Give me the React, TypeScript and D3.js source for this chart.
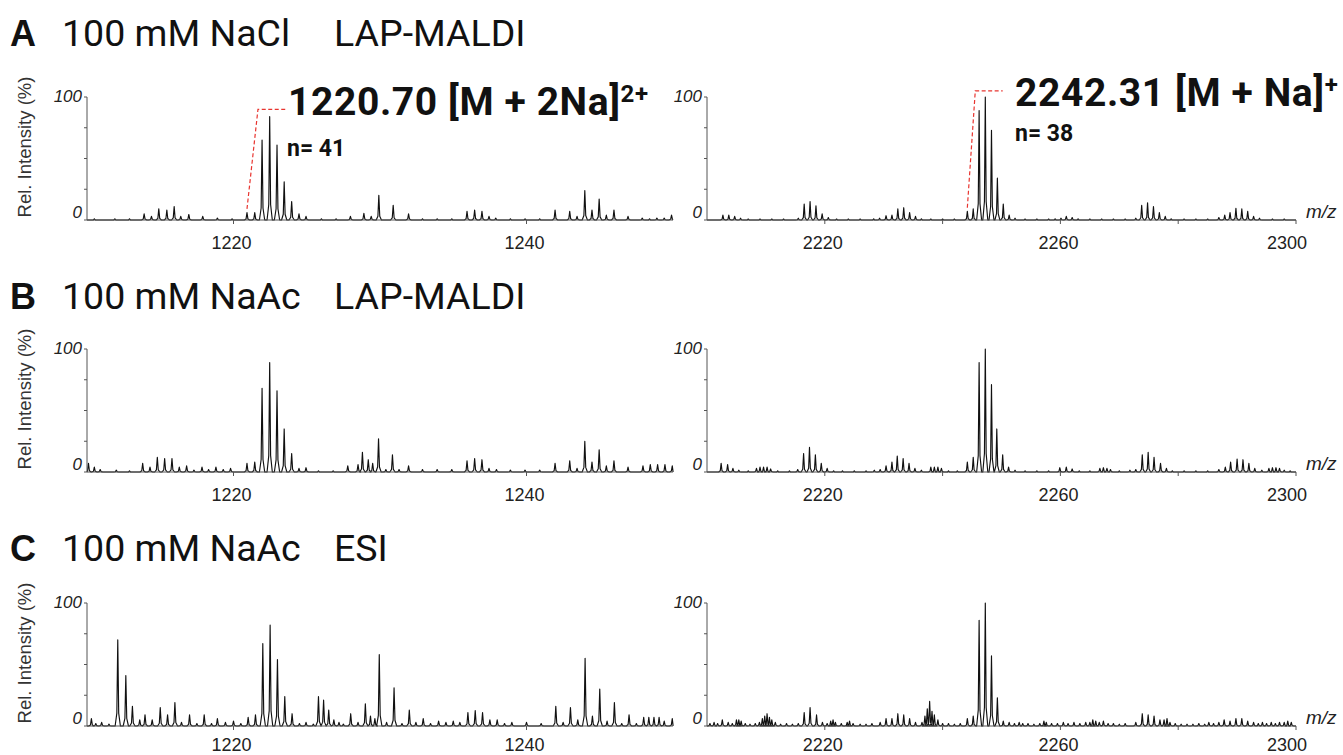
import React from "react";
import * as d3 from "d3";

// ---------- axis / tick data ----------
const leftDomain: [number, number] = [1210, 1250];
const rightDomain: [number, number] = [2200, 2300];
const leftTicks = [1220, 1240];
const leftTickLabels = [1220, 1240];
const rightTicks = [2220, 2240, 2260, 2280, 2300];
const rightTickLabels = [2220, 2260, 2300];
const yTicks = [0, 25, 50, 75, 100];
const yTickLabels = [0, 100];

const panelLetters = ["A", "B", "C"];
const panelSalts = ["100 mM NaCl", "100 mM NaAc", "100 mM NaAc"];
const panelMethods = ["LAP-MALDI", "LAP-MALDI", "ESI"];

// ---------- spectra (peak m/z, rel. intensity %) ----------
const aLeftMz = [1210.5, 1211.9, 1212.9, 1213.9, 1214.4, 1214.9, 1215.45, 1215.95, 1216.4, 1216.95, 1217.9, 1218.9, 1219.9, 1220.92, 1221.45, 1221.95, 1222.47, 1222.97, 1223.46, 1223.97, 1224.47, 1224.95, 1226.0, 1227.0, 1227.98, 1228.9, 1229.4, 1229.92, 1230.9, 1231.95, 1232.9, 1233.9, 1234.9, 1235.94, 1236.46, 1236.96, 1237.44, 1237.9, 1238.9, 1239.9, 1240.9, 1241.95, 1242.95, 1243.45, 1243.98, 1244.47, 1244.96, 1245.45, 1245.97, 1246.93, 1247.9, 1248.4, 1248.9, 1249.4, 1249.9];
const aLeftInt = [1, 1, 1, 5, 3, 9, 8, 11, 3, 4.5, 3, 1.5, 1, 6, 6, 65, 84, 61, 31, 15, 5, 3, 1, 1, 3, 5.5, 3, 20, 12, 5, 1, 1, 1, 7, 8, 7, 3, 1.5, 1, 1, 1, 8, 7, 3, 24, 8, 17, 4, 8, 3, 1.5, 1, 1.5, 1.5, 4];

const aRightMz = [2202.7, 2203.7, 2204.7, 2205.7, 2207, 2209, 2211, 2213, 2215.5, 2216.5, 2217.5, 2218.5, 2219.55, 2220.6, 2222, 2224, 2226, 2228.3, 2229.3, 2230.4, 2231.4, 2232.4, 2233.4, 2234.4, 2235.4, 2236.4, 2238, 2240, 2242, 2244.2, 2245.2, 2246.2, 2247.25, 2248.3, 2249.3, 2250.3, 2251.3, 2252.3, 2254, 2256, 2258, 2259.1, 2260.1, 2261.0, 2262.0, 2263.0, 2265, 2267, 2269, 2271, 2272.8, 2273.8, 2274.8, 2275.8, 2276.8, 2277.8, 2278.8, 2281, 2283, 2285, 2286.9, 2287.9, 2288.8, 2289.8, 2290.8, 2291.8, 2292.8, 2293.8, 2296, 2298];
const aRightInt = [4, 4, 3, 1.5, 0.8, 0.8, 0.8, 0.8, 1.5, 13, 15, 11.5, 5, 2, 0.8, 0.8, 0.8, 1, 1.5, 3.5, 4, 9, 10, 6, 3, 1, 0.8, 0.8, 0.8, 7, 9, 89, 100, 73, 34, 13, 4, 1.5, 0.8, 0.8, 0.8, 1, 1.5, 3, 2, 1, 0.8, 0.8, 0.8, 0.8, 1.5, 12, 14, 11, 6, 3, 1, 0.8, 0.8, 0.8, 2, 4, 6, 9.5, 9, 7, 3, 1.5, 0.8, 0.8];

const bLeftMz = [1210.1, 1210.5, 1210.9, 1212.0, 1212.9, 1213.8, 1214.3, 1214.8, 1215.3, 1215.8, 1216.3, 1216.8, 1217.3, 1217.85, 1218.3, 1218.8, 1219.3, 1219.8, 1220.92, 1221.45, 1221.95, 1222.47, 1222.97, 1223.46, 1223.97, 1224.47, 1224.95, 1225.8, 1226.8, 1227.8, 1228.5, 1228.8, 1229.2, 1229.5, 1229.9, 1230.4, 1230.85, 1231.3, 1231.95, 1232.9, 1233.9, 1234.9, 1235.94, 1236.46, 1236.96, 1237.44, 1237.95, 1238.9, 1239.9, 1240.9, 1241.95, 1242.95, 1243.45, 1243.98, 1244.47, 1244.96, 1245.45, 1245.97, 1246.93, 1247.95, 1248.45, 1248.95, 1249.45, 1249.95];
const bLeftInt = [7, 4, 2, 1.5, 1, 7, 4, 12, 11, 11, 4, 5, 1.5, 4, 2, 4, 2, 3, 7, 8, 68, 89, 66, 35, 15, 3, 3.5, 1, 1, 5, 6, 16, 10, 7, 27, 2, 14, 2, 5, 2, 2, 2, 9, 11, 10, 3, 2, 1.5, 1.5, 1.5, 7, 9, 3, 25, 8, 18, 5, 9, 4, 5, 6, 6, 6, 5];

const bRightMz = [2202.4, 2203.5, 2204.4, 2205.4, 2207, 2208.4, 2209.0, 2209.6, 2210.2, 2210.8, 2212, 2214, 2215.4, 2216.4, 2217.4, 2218.4, 2219.4, 2220.4, 2221.5, 2223, 2225, 2227, 2228.4, 2229.4, 2230.4, 2231.4, 2232.3, 2233.3, 2234.3, 2235.3, 2236.4, 2238.0, 2238.6, 2239.2, 2239.8, 2241, 2242.5, 2244.2, 2245.2, 2246.2, 2247.25, 2248.3, 2249.2, 2250.2, 2251.2, 2252.3, 2254, 2256, 2258, 2259.9, 2261.0, 2262.0, 2263.2, 2265, 2266.7, 2267.3, 2267.9, 2268.5, 2270, 2271.8, 2272.8, 2273.9, 2274.9, 2275.9, 2277.0, 2278.0, 2279, 2281, 2283, 2285, 2286.9, 2288.0, 2288.9, 2290.0, 2291.0, 2292.0, 2293.0, 2294.2, 2295.4, 2296.0, 2296.6, 2297.2, 2298, 2299];
const bRightInt = [7, 6, 3, 1.5, 1, 3, 4, 4, 4, 2.5, 1, 1, 2, 15, 20, 14, 7, 3, 1, 1, 1, 1, 1.5, 2, 5, 8, 13, 11, 7, 3, 1.5, 4, 4, 4, 3, 1, 1, 8, 12, 89, 100, 71, 35, 14, 4, 1.5, 1, 1, 1, 3.5, 4, 2.5, 1, 1, 3, 3.5, 3, 2, 1, 1.5, 2, 14, 16, 12, 7, 3, 1, 1, 1, 1, 2, 4, 8, 10.5, 10, 7, 3, 1.5, 3, 3.5, 3.5, 3, 1.5, 1];

const cLeftMz = [1210.3, 1210.6, 1211.0, 1211.5, 1212.1, 1212.65, 1213.1, 1213.6, 1213.96, 1214.45, 1215.0, 1215.5, 1216.0, 1216.45, 1217.0, 1217.5, 1218.0, 1218.5, 1218.9, 1219.45, 1220.0, 1220.5, 1221.0, 1221.5, 1222.0, 1222.5, 1223.0, 1223.5, 1224.0, 1224.5, 1224.95, 1225.45, 1225.8, 1226.15, 1226.5, 1226.85, 1227.2, 1227.5, 1228.0, 1228.5, 1229.0, 1229.35, 1229.65, 1229.95, 1230.45, 1230.96, 1231.5, 1232.0, 1232.45, 1232.95, 1233.45, 1234.0, 1234.5, 1235.0, 1235.45, 1236.0, 1236.5, 1237.0, 1237.5, 1238.0, 1238.5, 1239.0, 1240.0, 1241.0, 1242.0, 1242.5, 1243.0, 1243.5, 1244.0, 1244.5, 1245.0, 1245.5, 1246.0, 1246.5, 1247.0, 1247.5, 1248.0, 1248.35, 1248.7, 1249.05, 1249.4, 1249.95];
const cLeftInt = [6, 2, 3, 1.5, 70, 41, 16, 5, 9, 5, 15, 9, 19, 3, 9, 2, 9, 2, 6, 3, 4, 2, 7, 9, 67, 82, 54, 24, 10, 2, 3, 1.5, 24, 21, 13, 5, 3, 1.5, 10, 3, 18, 8, 6, 58, 3, 31, 2, 13, 3, 6, 2, 4, 3, 4, 3, 11, 12.5, 11, 5, 5, 2, 3, 3, 2, 16, 3, 15, 5, 55, 8, 30, 4, 19, 2, 9, 2, 7, 7, 7, 7, 4, 6];

const cRightMz = [2200.5, 2201.2, 2201.8, 2202.6, 2203.6, 2204.3, 2205.0, 2205.4, 2205.8, 2206.5, 2207.3, 2208.2, 2208.9, 2209.4, 2209.8, 2210.2, 2210.6, 2211.0, 2211.6, 2212.5, 2213.5, 2214.5, 2215.5, 2216.5, 2217.5, 2218.6, 2219.6, 2220.4, 2221.0, 2221.4, 2221.8, 2222.8, 2223.8, 2224.2, 2224.8, 2226, 2227, 2228, 2229.4, 2230.4, 2231.4, 2232.4, 2233.4, 2234.4, 2235.4, 2236.5, 2237.0, 2237.4, 2237.8, 2238.2, 2238.6, 2239.2, 2240, 2241, 2242, 2243, 2244.2, 2245.2, 2246.2, 2247.25, 2248.3, 2249.3, 2250.3, 2251.3, 2252.2, 2253.0, 2253.6, 2254.5, 2255.5, 2256.5, 2257.2, 2257.6, 2258.5, 2259.5, 2260.5, 2261.3, 2262.3, 2263.3, 2264.3, 2265.0, 2265.5, 2266.0, 2266.6, 2267.3, 2268.1, 2269.0, 2270.0, 2271.0, 2272.8, 2273.9, 2274.9, 2275.9, 2276.9, 2277.6, 2278.1, 2278.6, 2279.5, 2280.5, 2281.5, 2282.5, 2283.5, 2284.5, 2285.2, 2286.0, 2286.9, 2287.8, 2288.8, 2289.8, 2290.8, 2291.8, 2292.8, 2293.6, 2294.3, 2295.0, 2295.8, 2296.5, 2297.2, 2298.0, 2298.6, 2299.2];
const cRightInt = [2, 3, 2, 5, 3, 2, 5, 5, 4, 2, 1.5, 2, 3, 6, 8, 10, 7, 5, 3, 1.5, 2, 1.5, 2, 11, 15, 9, 3, 2, 4, 5, 3, 2, 3, 4, 2, 1.5, 1.5, 2, 3, 6, 6, 10, 9, 6, 3, 3, 8, 14, 20, 12, 9, 5, 2, 2, 1.5, 2, 6, 8, 86, 100, 57, 23, 4, 3, 2, 3, 2, 2, 1.5, 2, 4, 3, 2, 2, 3, 2, 3, 2, 3, 3, 5, 4, 3, 4, 2, 2, 1.5, 2, 3, 10, 9, 8, 5, 5, 6, 3, 2, 1.5, 1.5, 1.5, 2, 1.5, 3, 2, 3, 5, 4, 6, 6, 4, 3, 2, 3, 2, 3, 2, 3, 3, 4, 3];

const leftSpectra = [
  { mz: aLeftMz, int: aLeftInt },
  { mz: bLeftMz, int: bLeftInt },
  { mz: cLeftMz, int: cLeftInt },
];
const rightSpectra = [
  { mz: aRightMz, int: aRightInt },
  { mz: bRightMz, int: bRightInt },
  { mz: cRightMz, int: cRightInt },
];

// annotation connector points in data space (m/z, %)
const leftConnector = [[1220.92, 9], [1221.67, 90], [1223.65, 90]];
const rightConnector = [[2244.2, 10], [2245.55, 105], [2250.2, 105]];

// ---------- layout ----------
const W = 1343;
const H = 755;
const LX0 = 87, LX1 = 673;
const RX0 = 707, RX1 = 1296;
const panelTops = [97, 349, 603];
const PH = 123;

const FONT = "'Liberation Sans', Arial, sans-serif";
const TITLE_FONT = "Roboto, 'Liberation Sans', sans-serif";

function peakPath(
  mz: number[],
  ints: number[],
  x: d3.ScaleLinear<number, number>,
  y: d3.ScaleLinear<number, number>,
  w: number,
  domain: [number, number]
) {
  const pts: [number, number][] = [[domain[0], 0]];
  mz.forEach((m, i) => {
    const h = ints[i];
    pts.push([m - w, 0], [m - 0.35 * w, 0.15 * h], [m, h], [m + 0.35 * w, 0.15 * h], [m + w, 0]);
  });
  pts.push([domain[1], 0]);
  const line = d3
    .line<[number, number]>()
    .x((d) => x(Math.max(domain[0], Math.min(domain[1], d[0]))))
    .y((d) => y(d[1]));
  return line(pts) || "";
}

function Panel({ idx }: { idx: number }) {
  const top = panelTops[idx];
  const bottom = top + PH;
  const y = d3.scaleLinear().domain([0, 100]).range([bottom, top]);
  const xl = d3.scaleLinear().domain(leftDomain).range([LX0, LX1]);
  const xr = d3.scaleLinear().domain(rightDomain).range([RX0, RX1]);
  const axisColor = "#555";

  const yAxis = (x0: number, labelX: number) => (
    <g>
      <line x1={x0} x2={x0} y1={y(0)} y2={y(100)} stroke={axisColor} strokeWidth={1} />
      {yTicks.map((t) => (
        <line key={t} x1={x0 - 3} x2={x0} y1={y(t)} y2={y(t)} stroke={axisColor} strokeWidth={1} />
      ))}
      {yTickLabels.map((t) => (
        <text
          key={t}
          x={labelX}
          y={t === 100 ? y(t) + 1 : y(t) - 6}
          textAnchor="end"
          dominantBaseline="middle"
          fontFamily={FONT}
          fontStyle="italic"
          fontSize={17}
          fill="#222"
        >
          {t}
        </text>
      ))}
    </g>
  );

  const labelBase = Math.min(bottom + 29, 751);
  const xAxis = (
    x: d3.ScaleLinear<number, number>,
    ticks: number[],
    labels: number[]
  ) => {
    const [r0, r1] = x.range();
    return (
      <g>
        <line x1={r0} x2={r1} y1={bottom} y2={bottom} stroke={axisColor} strokeWidth={1} />
        {ticks.map((t) => (
          <line key={t} x1={x(t)} x2={x(t)} y1={bottom} y2={bottom + 4} stroke={axisColor} strokeWidth={1} />
        ))}
        {labels.map((t) => (
          <text
            key={t}
            x={x(t) - (t === 2300 ? 9 : 2)}
            y={labelBase}
            textAnchor="middle"
            fontFamily={FONT}
            fontSize={18}
            fill="#222"
          >
            {t}
          </text>
        ))}
      </g>
    );
  };

  const titleBase = [46, 309, 561][idx];
  const ls = leftSpectra[idx];
  const rs = rightSpectra[idx];

  return (
    <g>
      {/* title */}
      <text x={10} y={titleBase} fontFamily={FONT} fontWeight="bold" fontSize={36} fill="#111">
        {panelLetters[idx]}
      </text>
      <text x={62} y={titleBase} fontFamily={TITLE_FONT} fontSize={37.5} fill="#111">
        {panelSalts[idx]}
      </text>
      <text x={334} y={titleBase} fontFamily={TITLE_FONT} fontSize={37.5} fill="#111">
        {panelMethods[idx]}
      </text>

      {/* y label */}
      <text
        transform={`translate(31, ${top + 50}) rotate(-90)`}
        textAnchor="middle"
        fontFamily={FONT}
        fontSize={18.5}
        fill="#333"
      >
        Rel. Intensity (%)
      </text>

      {/* spectra */}
      <path d={peakPath(ls.mz, ls.int, xl, y, 0.18, leftDomain)} fill="none" stroke="#111" strokeWidth={1.15} strokeLinejoin="round" />
      <path d={peakPath(rs.mz, rs.int, xr, y, 0.42, rightDomain)} fill="none" stroke="#111" strokeWidth={1.15} strokeLinejoin="round" />

      {yAxis(LX0, LX0 - 5)}
      {yAxis(RX0, RX0 - 5)}
      {xAxis(xl, leftTicks, leftTickLabels)}
      {xAxis(xr, rightTicks, rightTickLabels)}

      <text x={1306} y={bottom - 2} fontFamily={FONT} fontStyle="italic" fontSize={19} fill="#222">
        m/z
      </text>
    </g>
  );
}

function Annotations() {
  const top = panelTops[0];
  const y = d3.scaleLinear().domain([0, 100]).range([top + PH, top]);
  const xl = d3.scaleLinear().domain(leftDomain).range([LX0, LX1]);
  const xr = d3.scaleLinear().domain(rightDomain).range([RX0, RX1]);
  const connL = d3.line<number[]>().x((d) => xl(d[0])).y((d) => y(d[1]))(leftConnector) || "";
  const connR = d3.line<number[]>().x((d) => xr(d[0])).y((d) => y(d[1]))(rightConnector) || "";
  return (
    <g>
      <path d={connL} fill="none" stroke="#e8342f" strokeWidth={1.2} strokeDasharray="4,2.5" />
      <path d={connR} fill="none" stroke="#e8342f" strokeWidth={1.2} strokeDasharray="4,2.5" />
      <text x={288} y={115} fontFamily={TITLE_FONT} fontWeight="bold" fontSize={39} fill="#111" letterSpacing={0.6}>
        <tspan>1220.70 [M + 2Na]</tspan>
        <tspan dy={-13} fontSize={24}>2+</tspan>
      </text>
      <text x={287} y={156} fontFamily={TITLE_FONT} fontWeight="bold" fontSize={23} fill="#111">
        n= 41
      </text>
      <text x={1015} y={106} fontFamily={TITLE_FONT} fontWeight="bold" fontSize={39} fill="#111" letterSpacing={0.6}>
        <tspan>2242.31 [M + Na]</tspan>
        <tspan dy={-13} fontSize={24}>+</tspan>
      </text>
      <text x={1015} y={141} fontFamily={TITLE_FONT} fontWeight="bold" fontSize={23} fill="#111">
        n= 38
      </text>
    </g>
  );
}

export default function App() {
  return (
    <svg
      width={W}
      height={H}
      viewBox={`0 0 ${W} ${H}`}
      style={{ position: "absolute", left: 0, top: 0, background: "#fff" }}
    >
      <rect x={0} y={0} width={W} height={H} fill="#fff" />
      {[0, 1, 2].map((i) => (
        <Panel key={i} idx={i} />
      ))}
      <Annotations />
    </svg>
  );
}
